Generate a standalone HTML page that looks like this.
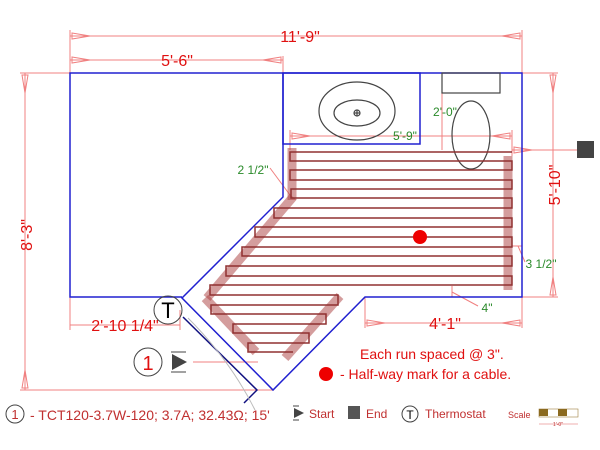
<!DOCTYPE html>
<html><head><style>
html,body{margin:0;padding:0;background:#fff;}
svg{display:block;font-family:"Liberation Sans",sans-serif;}
</style></head><body>
<svg width="600" height="450" viewBox="0 0 600 450" xmlns="http://www.w3.org/2000/svg">
<g stroke="#f08080" stroke-width="1" fill="none">
<line x1="70" y1="36" x2="522" y2="36"/><line x1="70" y1="30" x2="70" y2="73"/><line x1="522" y1="30" x2="522" y2="73"/>
<line x1="70" y1="60" x2="283" y2="60"/><line x1="283" y1="56" x2="283" y2="73"/>
<line x1="25" y1="73" x2="25" y2="390"/><line x1="20" y1="73" x2="70" y2="73"/><line x1="20" y1="390" x2="273" y2="390"/>
<line x1="553" y1="73" x2="553" y2="297"/><line x1="522" y1="73" x2="558" y2="73"/><line x1="522" y1="297" x2="558" y2="297"/>
<line x1="70" y1="297" x2="70" y2="330"/><line x1="70" y1="325" x2="180" y2="325"/><line x1="180" y1="310" x2="180" y2="330"/>
<line x1="365" y1="297" x2="365" y2="328"/><line x1="365" y1="323" x2="522" y2="323"/><line x1="522" y1="297" x2="522" y2="328"/>
<line x1="290" y1="136" x2="512" y2="136"/><line x1="290" y1="130" x2="290" y2="150"/><line x1="512" y1="130" x2="512" y2="156"/>
<line x1="442" y1="93" x2="442" y2="150"/><line x1="512" y1="150" x2="577" y2="150"/>
<line x1="270" y1="168" x2="290" y2="195"/><line x1="512" y1="246" x2="522" y2="246"/><line x1="518" y1="246" x2="525" y2="262"/>
<line x1="452" y1="286" x2="452" y2="297"/><line x1="452" y1="292" x2="478" y2="306"/>
<line x1="193" y1="362" x2="258" y2="362"/>
<path d="M72,33 l18,3 l-18,3z M520,33 l-18,3 l18,3z M72,57 l18,3 l-18,3z M281,57 l-18,3 l18,3z M22,75 l3,18 l3,-18z M22,388 l3,-18 l3,18z M550,75 l3,18 l3,-18z M550,295 l3,-18 l3,18z M520,320 l-18,3 l18,3z M367,320 l18,3 l-18,3z M292,133 l18,3 l-18,3z M510,133 l-18,3 l18,3z M514,147 l18,3 l-18,3z"/>
</g>
<g stroke="#2020d0" stroke-width="1.5" fill="none">
<polyline points="182,297 70,297 70,73 522,73 522,297 365,297 273,390 182,298 283,197 283,73"/>
<rect x="283" y="73" width="137" height="71"/>
</g>
<polyline points="183,317 257,390 244,403" stroke="#101080" stroke-width="1.5" fill="none"/>
<path d="M188,318 Q230,360 255,410" stroke="#bbb" fill="none"/>
<g stroke="#444" stroke-width="1.2" fill="none">
<rect x="442" y="73" width="58" height="20"/>
<ellipse cx="471" cy="135" rx="19" ry="34"/>
<ellipse cx="357" cy="111" rx="38" ry="29"/>
<ellipse cx="357" cy="113" rx="23" ry="13"/>
<circle cx="357" cy="113" r="3"/><line x1="354" y1="113" x2="360" y2="113"/><line x1="357" y1="110" x2="357" y2="116"/>
</g>
<g stroke="rgba(170,60,60,0.5)" stroke-width="9" fill="none">
<line x1="292" y1="148" x2="292" y2="200"/>
<line x1="508" y1="156" x2="508" y2="290"/>
<line x1="293" y1="197" x2="207" y2="298"/>
<line x1="205" y1="298" x2="256" y2="352"/>
<line x1="340" y1="296" x2="285" y2="358"/>
</g>
<g stroke="#903030" stroke-width="1.5" fill="none">
<polyline points="512,152 290,152 290,161 512,161 512,170 290,170 290,180 512,180 512,189 291,189 291,198 512,198 512,208 274,208 274,218 512,218 512,227 255,227 255,237 512,237 512,247 242,247 242,256 512,256 512,266 226,266 226,276 512,276 512,285 210,285 210,295 338,295 338,305 211,305 211,314 326,314 326,324 233,324 233,333 309,333 309,343 248,343 248,352 293,352"/>
</g>
<circle cx="420" cy="237" r="7" fill="#e00"/>
<rect x="577" y="141" width="17" height="17" fill="#444"/>
<g fill="#e01010" font-size="16">
<text x="300" y="42" text-anchor="middle">11'-9"</text>
<text x="177" y="66" text-anchor="middle">5'-6"</text>
<text x="0" y="0" transform="translate(32,235) rotate(-90)" text-anchor="middle">8'-3"</text>
<text x="0" y="0" transform="translate(560,185) rotate(-90)" text-anchor="middle">5'-10"</text>
<text x="125" y="331" text-anchor="middle">2'-10 1/4"</text>
<text x="445" y="329" text-anchor="middle">4'-1"</text>
</g>
<g fill="#2a8a2a" font-size="12">
<text x="405" y="140" text-anchor="middle">5'-9"</text>
<text x="445" y="116" text-anchor="middle">2'-0"</text>
<text x="253" y="174" text-anchor="middle">2 1/2"</text>
<text x="541" y="268" text-anchor="middle">3 1/2"</text>
<text x="487" y="312" text-anchor="middle">4"</text>
</g>
<circle cx="168" cy="310" r="14" fill="none" stroke="#444"/>
<text x="168" y="318" font-size="22" text-anchor="middle" fill="#000">T</text>
<circle cx="148" cy="362" r="14" fill="none" stroke="#444"/>
<text x="148" y="370" font-size="20" text-anchor="middle" fill="#e01010">1</text>
<line x1="171" y1="352" x2="186" y2="352" stroke="#444"/><line x1="171" y1="372" x2="186" y2="372" stroke="#444"/>
<path d="M172,354 L187,362 L172,370z" fill="#444"/>
<g fill="#e01010" font-size="14">
<text x="360" y="359">Each run spaced @ 3".</text>
<text x="340" y="379">- Half-way mark for a cable.</text>
</g>
<circle cx="326" cy="374" r="7" fill="#e00"/>
<circle cx="15" cy="414" r="9" fill="none" stroke="#444"/>
<text x="15" y="419" font-size="13" text-anchor="middle" fill="#c03030">1</text>
<text x="30" y="420" font-size="14" fill="#c03030">- TCT120-3.7W-120; 3.7A; 32.43Ω; 15'</text>
<line x1="293" y1="406" x2="299" y2="406" stroke="#444"/><line x1="293" y1="420" x2="299" y2="420" stroke="#444"/>
<path d="M294,408 L304,413 L294,418z" fill="#444"/>
<text x="309" y="418" font-size="12" fill="#c03030">Start</text>
<rect x="348" y="406" width="12" height="13" fill="#555"/>
<text x="366" y="418" font-size="12" fill="#c03030">End</text>
<circle cx="410" cy="414" r="8" fill="none" stroke="#444"/>
<text x="410" y="419" font-size="12" text-anchor="middle">T</text>
<text x="425" y="418" font-size="12" fill="#c03030">Thermostat</text>
<text x="508" y="418" font-size="9" fill="#c03030">Scale</text>
<rect x="539" y="409" width="39" height="8" fill="#fff" stroke="#a08040" stroke-width="0.6"/>
<rect x="539" y="409" width="9" height="7" fill="#8b6a20"/><rect x="558" y="409" width="9" height="7" fill="#8b6a20"/>
<line x1="539" y1="424" x2="578" y2="424" stroke="#e06060" stroke-width="0.6"/>
<text x="558" y="426" font-size="5" text-anchor="middle" fill="#c03030">1'-0"</text>
</svg>
</body></html>
